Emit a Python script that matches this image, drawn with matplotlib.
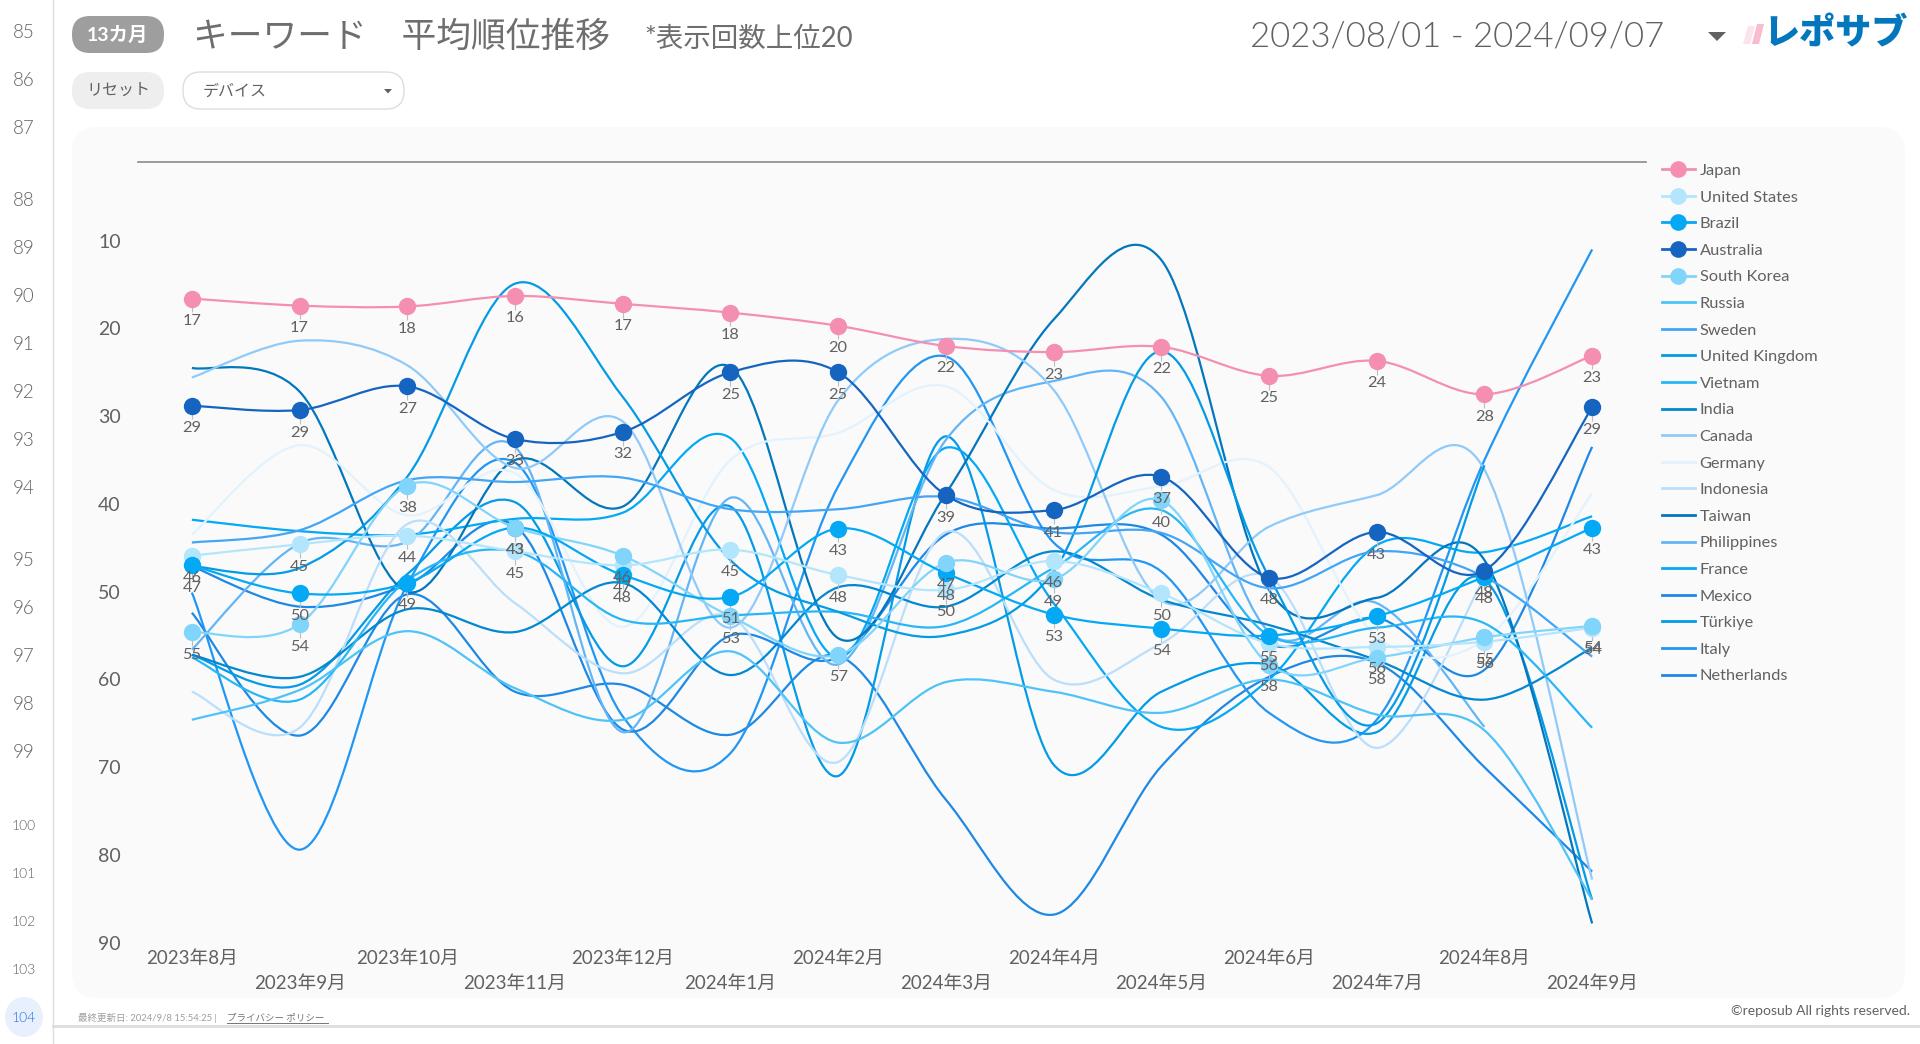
# -*- coding: utf-8 -*-
"""Keyword average rank by country, 13 months."""
import numpy as np
import matplotlib
matplotlib.use('Agg')
import matplotlib.pyplot as plt
from matplotlib import font_manager
from matplotlib.lines import Line2D
from matplotlib.path import Path
from matplotlib.patches import PathPatch, FancyBboxPatch, Ellipse, Polygon
from matplotlib.transforms import offset_copy

FONTS = ['Lato', 'Noto Sans CJK JP']
plt.rcParams['font.family'] = FONTS
GREY = '#616161'
nan = np.nan

# digits in the header and on the rail are Lato Light when the file is there
light_files = [f.fname for f in font_manager.fontManager.ttflist if f.fname.endswith('Lato-Light.ttf')]
if light_files:
    LIGHT = font_manager.FontProperties(fname=light_files[0])
else:
    LIGHT = font_manager.FontProperties(family='Lato')

months = ['2023年8月', '2023年9月', '2023年10月', '2023年11月', '2023年12月', '2024年1月', '2024年2月',
          '2024年3月', '2024年4月', '2024年5月', '2024年6月', '2024年7月', '2024年8月', '2024年9月']
yticks = [10, 20, 30, 40, 50, 60, 70, 80, 90]

japan = [16.6, 17.4, 17.5, 16.3, 17.2, 18.2, 19.7, 22.0, 22.7, 22.1, 25.4, 23.7, 27.5, 23.1]
united_states = [45.9, 44.6, 43.6, 45.4, 47.0, 45.2, 48.1, 49.8, 46.5, 50.2, 55.9, 56.3, 55.7, 54.1]
brazil = [47.0, 50.2, 49.0, 42.7, 48.1, 50.6, 42.8, 47.9, 52.6, 54.2, 55.0, 52.8, 48.3, 42.7]
australia = [28.8, 29.3, 26.6, 32.6, 31.8, 25.0, 25.0, 39.0, 40.7, 36.9, 48.4, 43.2, 47.6, 29.0]
south_korea = [54.6, 53.7, 37.9, 42.7, 45.9, 52.8, 57.2, 46.7, 48.6, 39.6, 58.3, 57.5, 55.2, 53.9]
russia = [64.6, 61.2, 54.5, 61, 64.6, 56.8, 67.2, 60.3, 61.4, 63.8, 60, 64, 65.8, 85.1]
sweden = [44.4, 43, 37.3, 37.5, 37, 40.6, 40.6, 39.2, 43.2, 43.3, 49.6, 45.4, 48.3, 57.4]
united_kingdom = [47.1, 47.3, 36.9, 14.9, 27.8, 46.4, 52.3, 55, 47.7, 22.6, 48.3, 65, 35.6, nan]
vietnam = [57.5, 62.3, 48.7, 45.4, 53.2, 52.7, 52.3, 53.9, 47.3, 40.7, 55, 54.1, 53.6, 65.5]
india = [57.2, 59.7, 52, 54.6, 49, 59.5, 49.5, 51.7, 45.4, 50.9, 53.8, 57.8, 62.3, 56.4]
canada = [25.6, 21.4, 24.2, 35.9, 30.6, 54.1, 28.2, 21.2, 27, 51, 42.6, 39, 36.1, 82.8]
germany = [43.5, 33.3, 41.3, 36.5, 54, 35, 31.9, 26.6, 38.4, 38, 35.8, 55.1, 55.5, 38.8]
indonesia = [61.4, 65.5, 42.3, 51.3, 59.3, 52.8, 69.4, 43.2, 60, 55.9, 48.3, 67.8, 48.4, nan]
taiwan = [24.5, 27.2, 50, 35, 40.3, 24.4, 55.3, 38.8, 19, 12.2, 49.8, 50.7, 46.4, 87.8]
philippines = [56.6, 44.5, 44.3, 33.5, 66, 39.3, 58.3, 32.7, 26, 27.8, 54.6, 51.3, 65.4, nan]
france = [41.8, 43.1, 43.5, 41.7, 41, 32.5, 57.5, 33.6, 51.3, 65.4, 60, 44.7, 45.5, 41.4]
mexico = [47.1, 51.7, 49.2, 42.5, 65.7, 55, 57.5, 43.5, 42.8, 43.5, 56, 53, 58.9, 33.5]
turkiye = [57.2, 60.6, 48, 39.8, 58.5, 40.3, 71, 32.3, 69.7, 61.4, 58.3, 66, 48.6, 85.1]
italy = [50.1, 79.4, 49.2, 35.3, 64.2, 68.4, 38, 23.2, 44.4, 47.7, 63.8, 64.6, 35, 11]
netherlands = [52.4, 66.4, 50.3, 61.4, 60.6, 66.3, 57.3, 73.7, 86.8, 69.9, 59.7, 58.1, 70, 81.9]

# name, values, colour, has markers and labels
series = [
    ('Japan', japan, '#F48FB1', True),
    ('United States', united_states, '#B3E5FC', True),
    ('Brazil', brazil, '#03A9F4', True),
    ('Australia', australia, '#1565C0', True),
    ('South Korea', south_korea, '#81D4FA', True),
    ('Russia', russia, '#4FC3F7', False),
    ('Sweden', sweden, '#42A5F5', False),
    ('United Kingdom', united_kingdom, '#039BE5', False),
    ('Vietnam', vietnam, '#29B6F6', False),
    ('India', india, '#0288D1', False),
    ('Canada', canada, '#90CAF9', False),
    ('Germany', germany, '#E3F2FD', False),
    ('Indonesia', indonesia, '#BBDEFB', False),
    ('Taiwan', taiwan, '#0277BD', False),
    ('Philippines', philippines, '#64B5F6', False),
    ('France', france, '#03A9F4', False),
    ('Mexico', mexico, '#1E88E5', False),
    ('Türkiye', turkiye, '#039BE5', False),
    ('Italy', italy, '#2196F3', False),
    ('Netherlands', netherlands, '#1E88E5', False),
]


def smooth_path(values):
    """Cardinal spline through the values, as cubic bezier segments."""
    y = np.array(values, dtype=float)
    x = np.arange(len(y), dtype=float)
    keep = np.isfinite(y)
    x, y = x[keep], y[keep]
    pts = np.column_stack([x, y])
    ext = np.vstack([pts[0], pts, pts[-1]])
    verts = [pts[0]]
    codes = [Path.MOVETO]
    for i in range(1, len(ext) - 2):
        verts.append(ext[i] + (ext[i + 1] - ext[i - 1]) / 6)
        verts.append(ext[i + 1] - (ext[i + 2] - ext[i]) / 6)
        verts.append(ext[i + 1])
        codes += [Path.CURVE4] * 3
    return Path(verts, codes)


fig = plt.figure(figsize=(19.2, 10.44), dpi=100, facecolor='white')

# page furniture, in pixel coordinates
bg = fig.add_axes([0, 0, 1, 1], zorder=0)
bg.set_xlim(0, 1920)
bg.set_ylim(1044, 0)
bg.axis('off')


def pill(x0, y0, x1, y1, r, fc, ec='none'):
    bg.add_patch(FancyBboxPatch((x0 + r, y0 + r), x1 - x0 - 2 * r, y1 - y0 - 2 * r,
                                boxstyle='round,pad=%d,rounding_size=%d' % (r, r), fc=fc, ec=ec, lw=1))


def light_text(x, y, text, size, color=GREY, **kw):
    fp = LIGHT.copy()
    fp.set_size(size)
    bg.text(x, y, text, color=color, fontproperties=fp, va='center', **kw)


pill(72, 127, 1905, 998, 26, '#FAFAFA')
pill(72, 16, 164, 53, 18, '#9E9E9E')
pill(72, 72, 164, 109, 18, '#EEEEEE')
pill(183, 72, 404, 109, 18, 'white', '#DDDDDD')

bg.text(118, 35, '13カ月', color='white', fontsize=14, fontweight='bold', ha='center', va='center')
bg.text(118, 91, 'リセット', color=GREY, fontsize=11.5, ha='center', va='center')
bg.text(203, 91, 'デバイス', color=GREY, fontsize=11.5, ha='left', va='center')
bg.add_patch(Polygon([(384, 89), (392, 89), (388, 93.5)], fc=GREY, ec='none'))
bg.text(193, 37, 'キーワード　平均順位推移', color='#6E6E6E', fontsize=25, ha='left', va='center')
bg.text(644, 39, '*表示回数上位20', color='#6E6E6E', fontsize=19.8, ha='left', va='center')
light_text(1250, 36, '2023/08/01 - 2024/09/07', 25, ha='left')
bg.add_patch(Polygon([(1708, 32), (1726, 32), (1717, 41)], fc=GREY, ec='none'))

# logo
bg.add_patch(Polygon([(1743, 44), (1748, 26), (1755, 26), (1750, 44)], fc='#FCE4EC', ec='none'))
bg.add_patch(Polygon([(1752, 44), (1757, 24), (1764, 24), (1759, 44)], fc='#F8BBD0', ec='none'))
bg.text(1763, 33, 'レポサブ', color='#0277BD', fontsize=26, fontweight='black', ha='left', va='center')

# slide numbers on the left rail
rail_numbers = list(range(85, 105))
rail_y = [33, 81, 129, 201, 249, 297, 345, 393, 441, 489, 561, 609, 657, 705, 753, 826, 874, 922, 970, 1018]
bg.plot([52.5, 52.5], [0, 1044], color='#DDDDDD', lw=1)
bg.plot([53, 1920], [1026, 1026], color='#DDDDDD', lw=2)
bg.add_patch(Ellipse((24, 1017), 38, 40, fc='#E8F0FE', ec='none'))
for n, yy in zip(rail_numbers, rail_y):
    light_text(24, yy, str(n), 13.5 if n < 100 else 10, color='#1A73E8' if n == 104 else GREY, ha='center')

bg.text(78, 1018, '最終更新日: 2024/9/8 15:54:25 | ', color='#9E9E9E', fontsize=6.8, ha='left', va='center')
bg.text(227, 1018, 'プライバシー ポリシー', color='#757575', fontsize=6.8, ha='left', va='center')
bg.plot([227, 328], [1023, 1023], color='#757575', lw=0.7)
bg.text(1910, 1011, '©reposub All rights reserved.', color=GREY, fontsize=10, ha='right', va='center')

# chart
ax = fig.add_axes([138 / 1920, 1 - 942.7 / 1044, (1646 - 138) / 1920, (942.7 - 161.7) / 1044],
                  zorder=1, facecolor='none')
ax.set_xlim(-0.5, 13.5)
ax.set_ylim(90, 1)
ax.set_yticks(yticks)
ax.set_xticks(range(len(months)))
ax.set_xticklabels(months, fontsize=13.5, color=GREY)
ax.tick_params(axis='y', length=0, pad=12.5, labelsize=14, labelcolor=GREY)
ax.tick_params(axis='x', length=0)
for i, tick in enumerate(ax.xaxis.get_major_ticks()):
    tick.set_pad(23 if i % 2 else 5.5)
for side in ('left', 'right', 'bottom'):
    ax.spines[side].set_visible(False)
ax.spines['top'].set_color('#8A8A8A')
ax.spines['top'].set_linewidth(1.2)

tick_trans = offset_copy(ax.transData, fig=fig, y=-7.7, units='points')
handles = []
for n, (name, values, colour, marked) in reversed(list(enumerate(series))):
    ax.add_patch(PathPatch(smooth_path(values), fc='none', ec=colour, lw=1.6, zorder=2 + (20 - n) * 0.01,
                           clip_on=False, capstyle='butt'))
for n, (name, values, colour, marked) in enumerate(series):
    handles.append(Line2D([], [], color=colour, lw=2, marker='o' if marked else None, ms=12, mew=0, label=name))
    if not marked:
        continue
    xs = np.arange(len(values))
    ax.plot(xs, values, ls='none', marker='|', ms=4.5, mew=0.8, mec='#BDBDBD', transform=tick_trans, zorder=3)
    ax.plot(xs, values, ls='none', marker='o', ms=12.5, mew=0, color=colour, zorder=4 + n)
    for x, v in zip(xs, values):
        ax.annotate('%.0f' % v, (x, v), xytext=(0, -16.2), textcoords='offset points', ha='center', va='center',
                    fontsize=11.8, color=GREY, zorder=12, annotation_clip=False)

leg = ax.legend(handles=handles, loc='upper left', bbox_to_anchor=(1662 / 1920, 1 - 163.5 / 1044),
                bbox_transform=fig.transFigure, frameon=False, fontsize=11.8, labelcolor=GREY,
                handlelength=2.0, handletextpad=0.3, labelspacing=0.74, borderpad=0, borderaxespad=0)

fig.savefig('out.png', dpi=100)
